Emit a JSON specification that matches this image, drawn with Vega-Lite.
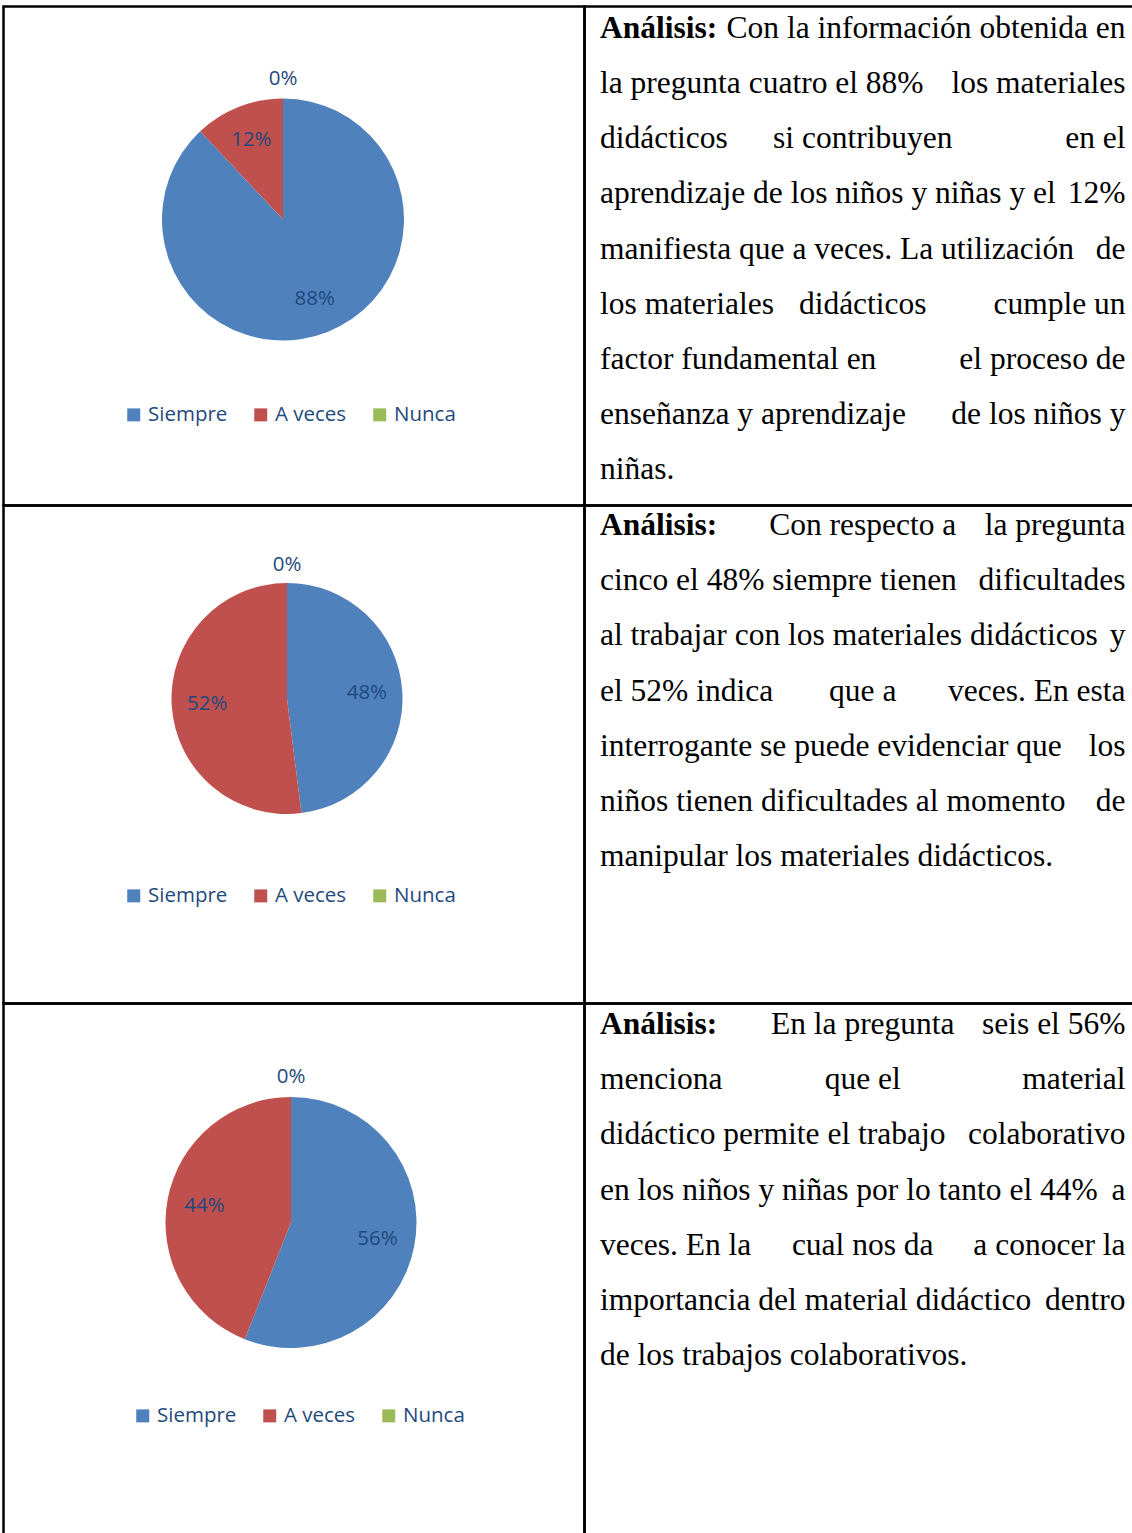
{
  "$schema": "https://vega.github.io/schema/vega-lite/v6.json",
  "padding": {"left": 1.5, "top": 4.5, "right": 0, "bottom": 0},
  "background": "white",
  "columns": 2,
  "spacing": 0,
  "bounds": "flush",
  "resolve": {"scale": {"color": "independent"}, "legend": {"color": "independent"}},
  "config": {"view": {"stroke": "#000", "strokeWidth": 2.5}, "concat": {"spacing": 0}},
  "concat": [
    {
      "width": 581, "height": 499,
      "view": {"stroke": "#000", "strokeWidth": 2.5},
      "data": {"values": [
        {"cat": "Siempre", "value": 0.88, "k": 1},
        {"cat": "A veces", "value": 0.12, "k": 2},
        {"cat": "Nunca", "value": 0, "k": 3}
      ]},
      "layer": [
        {"mark": {"type": "arc", "radius": 121, "xOffset": -11, "yOffset": -36.5, "stroke": null},
         "encoding": {
           "theta": {"field": "value", "type": "quantitative", "stack": true},
           "order": {"field": "k", "type": "quantitative"},
           "color": {"field": "cat", "type": "nominal", "scale": {"domain": ["Siempre", "A veces", "Nunca"], "range": ["#4f81bd", "#c0504d", "#9bbb59"]},
             "legend": {"orient": "none", "legendX": 120, "legendY": 398, "direction": "horizontal", "title": null, "symbolType": "square", "symbolSize": 169, "symbolStrokeWidth": 0, "symbolOpacity": 1, "labelFont": "Open Sans", "labelFontSize": 20.5, "labelColor": "#1f497d", "labelOffset": 4, "columnPadding": 23, "padding": 0}}
         }},
        {"mark": {"type": "text", "radius": 86, "xOffset": -11, "yOffset": -36.5, "font": "Open Sans", "fontSize": 20.5, "color": "#1f497d", "align": "center", "baseline": "middle"},
         "encoding": {
           "theta": {"field": "value", "type": "quantitative", "stack": true},
           "order": {"field": "k", "type": "quantitative"},
           "detail": {"field": "cat", "type": "nominal"},
           "text": {"condition": {"test": "datum.value == 0", "value": ""}, "field": "value", "type": "quantitative", "format": ".0%"}
         }},
        {"mark": {"type": "text", "radius": 141, "xOffset": -11, "yOffset": -36.5, "font": "Open Sans", "fontSize": 20.5, "color": "#1f497d", "align": "center", "baseline": "middle"},
         "encoding": {
           "theta": {"field": "value", "type": "quantitative", "stack": true},
           "order": {"field": "k", "type": "quantitative"},
           "detail": {"field": "cat", "type": "nominal"},
           "text": {"condition": {"test": "datum.value > 0", "value": ""}, "field": "value", "type": "quantitative", "format": ".0%"}
         }}
      ]
    },
    {
      "width": 551, "height": 499,
      "data": {"values": [
        {"line": 0, "b": "Análisis:", "l": "", "c": "", "r": "Con la información obtenida en"},
        {"line": 1, "b": "", "l": "la pregunta cuatro el 88%", "c": "", "r": "los materiales"},
        {"line": 2, "b": "", "l": "didácticos", "c": "si contribuyen", "r": "en el"},
        {"line": 3, "b": "", "l": "aprendizaje de los niños y niñas y el", "c": "", "r": "12%"},
        {"line": 4, "b": "", "l": "manifiesta que a veces. La utilización", "c": "", "r": "de"},
        {"line": 5, "b": "", "l": "los materiales", "c": "didácticos", "r": "cumple un"},
        {"line": 6, "b": "", "l": "factor fundamental en", "c": "", "r": "el proceso de"},
        {"line": 7, "b": "", "l": "enseñanza y aprendizaje", "c": "", "r": "de los niños y"},
        {"line": 8, "b": "", "l": "niñas.", "c": "", "r": ""}
      ]},
      "encoding": {"y": {"field": "line", "type": "quantitative", "scale": {"domain": [-0.5611, 8.4706], "reverse": true, "nice": false, "zero": false}, "axis": null}},
      "layer": [
        {"mark": {"type": "text", "align": "left", "baseline": "alphabetic", "font": "Liberation Serif", "fontSize": 31.5, "fontWeight": "bold", "color": "#000"},
         "encoding": {"x": {"datum": "l", "type": "nominal", "scale": {"type": "point", "domain": ["l", "c", "r"], "range": [15.5, 541], "padding": 0}, "axis": null}, "text": {"field": "b", "type": "nominal"}}},
        {"mark": {"type": "text", "align": "left", "baseline": "alphabetic", "font": "Liberation Serif", "fontSize": 31.5, "color": "#000"},
         "encoding": {"x": {"datum": "l", "type": "nominal", "axis": null}, "text": {"field": "l", "type": "nominal"}}},
        {"mark": {"type": "text", "align": "center", "baseline": "alphabetic", "font": "Liberation Serif", "fontSize": 31.5, "color": "#000"},
         "encoding": {"x": {"datum": "c", "type": "nominal", "axis": null}, "text": {"field": "c", "type": "nominal"}}},
        {"mark": {"type": "text", "align": "right", "baseline": "alphabetic", "font": "Liberation Serif", "fontSize": 31.5, "color": "#000"},
         "encoding": {"x": {"datum": "r", "type": "nominal", "axis": null}, "text": {"field": "r", "type": "nominal"}}}
      ]
    },
    {
      "width": 581, "height": 498,
      "view": {"stroke": "#000", "strokeWidth": 2.5},
      "data": {"values": [
        {"cat": "Siempre", "value": 0.48, "k": 1},
        {"cat": "A veces", "value": 0.52, "k": 2},
        {"cat": "Nunca", "value": 0, "k": 3}
      ]},
      "layer": [
        {"mark": {"type": "arc", "radius": 115.5, "xOffset": -7, "yOffset": -56, "stroke": null},
         "encoding": {
           "theta": {"field": "value", "type": "quantitative", "stack": true},
           "order": {"field": "k", "type": "quantitative"},
           "color": {"field": "cat", "type": "nominal", "scale": {"domain": ["Siempre", "A veces", "Nunca"], "range": ["#4f81bd", "#c0504d", "#9bbb59"]},
             "legend": {"orient": "none", "legendX": 120, "legendY": 380, "direction": "horizontal", "title": null, "symbolType": "square", "symbolSize": 169, "symbolStrokeWidth": 0, "symbolOpacity": 1, "labelFont": "Open Sans", "labelFontSize": 20.5, "labelColor": "#1f497d", "labelOffset": 4, "columnPadding": 23, "padding": 0}}
         }},
        {"mark": {"type": "text", "radius": 80, "xOffset": -7, "yOffset": -56, "font": "Open Sans", "fontSize": 20.5, "color": "#1f497d", "align": "center", "baseline": "middle"},
         "encoding": {
           "theta": {"field": "value", "type": "quantitative", "stack": true},
           "order": {"field": "k", "type": "quantitative"},
           "detail": {"field": "cat", "type": "nominal"},
           "text": {"condition": {"test": "datum.value == 0", "value": ""}, "field": "value", "type": "quantitative", "format": ".0%"}
         }},
        {"mark": {"type": "text", "radius": 134, "xOffset": -7, "yOffset": -56, "font": "Open Sans", "fontSize": 20.5, "color": "#1f497d", "align": "center", "baseline": "middle"},
         "encoding": {
           "theta": {"field": "value", "type": "quantitative", "stack": true},
           "order": {"field": "k", "type": "quantitative"},
           "detail": {"field": "cat", "type": "nominal"},
           "text": {"condition": {"test": "datum.value > 0", "value": ""}, "field": "value", "type": "quantitative", "format": ".0%"}
         }}
      ]
    },
    {
      "width": 551, "height": 498,
      "data": {"values": [
        {"line": 0, "b": "Análisis:", "l": "", "c": "Con respecto a", "r": "la pregunta"},
        {"line": 1, "b": "", "l": "cinco el 48% siempre tienen", "c": "", "r": "dificultades"},
        {"line": 2, "b": "", "l": "al trabajar con los materiales didácticos", "c": "", "r": "y"},
        {"line": 3, "b": "", "l": "el 52% indica", "c": "que a", "r": "veces. En esta"},
        {"line": 4, "b": "", "l": "interrogante se puede evidenciar que", "c": "", "r": "los"},
        {"line": 5, "b": "", "l": "niños tienen dificultades al momento", "c": "", "r": "de"},
        {"line": 6, "b": "", "l": "manipular los materiales didácticos.", "c": "", "r": ""}
      ]},
      "encoding": {"y": {"field": "line", "type": "quantitative", "scale": {"domain": [-0.5339, 8.4797], "reverse": true, "nice": false, "zero": false}, "axis": null}},
      "layer": [
        {"mark": {"type": "text", "align": "left", "baseline": "alphabetic", "font": "Liberation Serif", "fontSize": 31.5, "fontWeight": "bold", "color": "#000"},
         "encoding": {"x": {"datum": "l", "type": "nominal", "scale": {"type": "point", "domain": ["l", "c", "r"], "range": [15.5, 541], "padding": 0}, "axis": null}, "text": {"field": "b", "type": "nominal"}}},
        {"mark": {"type": "text", "align": "left", "baseline": "alphabetic", "font": "Liberation Serif", "fontSize": 31.5, "color": "#000"},
         "encoding": {"x": {"datum": "l", "type": "nominal", "axis": null}, "text": {"field": "l", "type": "nominal"}}},
        {"mark": {"type": "text", "align": "center", "baseline": "alphabetic", "font": "Liberation Serif", "fontSize": 31.5, "color": "#000"},
         "encoding": {"x": {"datum": "c", "type": "nominal", "axis": null}, "text": {"field": "c", "type": "nominal"}}},
        {"mark": {"type": "text", "align": "right", "baseline": "alphabetic", "font": "Liberation Serif", "fontSize": 31.5, "color": "#000"},
         "encoding": {"x": {"datum": "r", "type": "nominal", "axis": null}, "text": {"field": "r", "type": "nominal"}}}
      ]
    },
    {
      "width": 581, "height": 537,
      "view": {"stroke": "#000", "strokeWidth": 2.5},
      "data": {"values": [
        {"cat": "Siempre", "value": 0.56, "k": 1},
        {"cat": "A veces", "value": 0.44, "k": 2},
        {"cat": "Nunca", "value": 0, "k": 3}
      ]},
      "layer": [
        {"mark": {"type": "arc", "radius": 125.5, "xOffset": -3, "yOffset": -49.5, "stroke": null},
         "encoding": {
           "theta": {"field": "value", "type": "quantitative", "stack": true},
           "order": {"field": "k", "type": "quantitative"},
           "color": {"field": "cat", "type": "nominal", "scale": {"domain": ["Siempre", "A veces", "Nunca"], "range": ["#4f81bd", "#c0504d", "#9bbb59"]},
             "legend": {"orient": "none", "legendX": 129, "legendY": 402, "direction": "horizontal", "title": null, "symbolType": "square", "symbolSize": 169, "symbolStrokeWidth": 0, "symbolOpacity": 1, "labelFont": "Open Sans", "labelFontSize": 20.5, "labelColor": "#1f497d", "labelOffset": 4, "columnPadding": 23, "padding": 0}}
         }},
        {"mark": {"type": "text", "radius": 88, "xOffset": -3, "yOffset": -49.5, "font": "Open Sans", "fontSize": 20.5, "color": "#1f497d", "align": "center", "baseline": "middle"},
         "encoding": {
           "theta": {"field": "value", "type": "quantitative", "stack": true},
           "order": {"field": "k", "type": "quantitative"},
           "detail": {"field": "cat", "type": "nominal"},
           "text": {"condition": {"test": "datum.value == 0", "value": ""}, "field": "value", "type": "quantitative", "format": ".0%"}
         }},
        {"mark": {"type": "text", "radius": 146, "xOffset": -3, "yOffset": -49.5, "font": "Open Sans", "fontSize": 20.5, "color": "#1f497d", "align": "center", "baseline": "middle"},
         "encoding": {
           "theta": {"field": "value", "type": "quantitative", "stack": true},
           "order": {"field": "k", "type": "quantitative"},
           "detail": {"field": "cat", "type": "nominal"},
           "text": {"condition": {"test": "datum.value > 0", "value": ""}, "field": "value", "type": "quantitative", "format": ".0%"}
         }}
      ]
    },
    {
      "width": 551, "height": 537,
      "data": {"values": [
        {"line": 0, "b": "Análisis:", "l": "", "c": "En la pregunta", "r": "seis el 56%"},
        {"line": 1, "b": "", "l": "menciona", "c": "que el", "r": "material"},
        {"line": 2, "b": "", "l": "didáctico permite el trabajo", "c": "", "r": "colaborativo"},
        {"line": 3, "b": "", "l": "en los niños y niñas por lo tanto el 44%", "c": "", "r": "a"},
        {"line": 4, "b": "", "l": "veces. En la", "c": "cual nos da", "r": "a conocer la"},
        {"line": 5, "b": "", "l": "importancia del material didáctico", "c": "", "r": "dentro"},
        {"line": 6, "b": "", "l": "de los trabajos colaborativos.", "c": "", "r": ""}
      ]},
      "encoding": {"y": {"field": "line", "type": "quantitative", "scale": {"domain": [-0.552, 9.1675], "reverse": true, "nice": false, "zero": false}, "axis": null}},
      "layer": [
        {"mark": {"type": "text", "align": "left", "baseline": "alphabetic", "font": "Liberation Serif", "fontSize": 31.5, "fontWeight": "bold", "color": "#000"},
         "encoding": {"x": {"datum": "l", "type": "nominal", "scale": {"type": "point", "domain": ["l", "c", "r"], "range": [15.5, 541], "padding": 0}, "axis": null}, "text": {"field": "b", "type": "nominal"}}},
        {"mark": {"type": "text", "align": "left", "baseline": "alphabetic", "font": "Liberation Serif", "fontSize": 31.5, "color": "#000"},
         "encoding": {"x": {"datum": "l", "type": "nominal", "axis": null}, "text": {"field": "l", "type": "nominal"}}},
        {"mark": {"type": "text", "align": "center", "baseline": "alphabetic", "font": "Liberation Serif", "fontSize": 31.5, "color": "#000"},
         "encoding": {"x": {"datum": "c", "type": "nominal", "axis": null}, "text": {"field": "c", "type": "nominal"}}},
        {"mark": {"type": "text", "align": "right", "baseline": "alphabetic", "font": "Liberation Serif", "fontSize": 31.5, "color": "#000"},
         "encoding": {"x": {"datum": "r", "type": "nominal", "axis": null}, "text": {"field": "r", "type": "nominal"}}}
      ]
    }
  ]
}
